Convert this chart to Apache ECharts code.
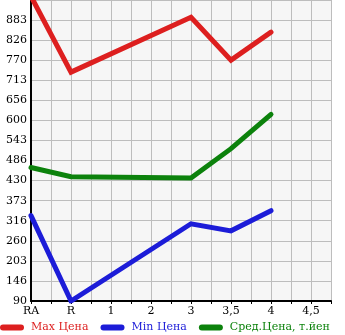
<!DOCTYPE html>
<html><head><meta charset="utf-8">
<script src="https://cdn.jsdelivr.net/npm/echarts@6/dist/echarts.min.js"></script>
<style>html,body{margin:0;padding:0;background:#fff}#c{width:345px;height:335px}</style>
</head><body><div id="c"></div>
<script>
var categories = ['RA', 'R', '1', '2', '3', '3,5', '4', '4,5'];
var maxPrice = [950, 736, null, null, 891, 770, 849, null];
var minPrice = [331, 90, null, null, 308, 288, 345, null];
var avgPrice = [467, 441, null, null, 437, 520, 617, null];
var yTickLabels = ['90', '146', '203', '260', '316', '373', '430', '486', '543', '600', '656', '713', '770', '826', '883', ''];
var seriesNames = ['Max Цена', 'Min Цена', 'Сред.Цена, т.йен'];
var colors = ['#dd1f1f', '#1c1cd8', '#0c820c'];

var yMin = 90, yStep = 793 / 14;
function pairs(arr) { return arr.map(function (v, i) { return [i, v]; }); }
var font = 'DejaVu Serif';
var chart = echarts.init(document.getElementById('c'));
var icon = 'path://M3,0 L21,0 A3,3 0 0 1 21,6 L3,6 A3,3 0 0 1 3,0 Z';
chart.setOption({
  animation: false,
  grid: { left: 31, right: 14, top: 0, bottom: 34, show: true, backgroundColor: '#f6f6f6', borderWidth: 0 },
  legend: {
    top: 322, left: 0, width: 345, padding: 0, itemWidth: 24, itemHeight: 6, itemGap: 12,
    data: seriesNames.map(function (n, i) { return { name: n, icon: icon, textStyle: { color: colors[i] } }; }),
    textStyle: { fontFamily: font, fontSize: 11, padding: [0, 0, 0, 2] }
  },
  xAxis: {
    type: 'value', min: 0, max: 7.5, interval: 0.5,
    axisLine: { lineStyle: { color: '#000', width: 2 } },
    axisTick: { show: true, length: 3, lineStyle: { color: '#000' } },
    splitLine: { show: true, lineStyle: { color: '#bdbdbd', width: 1 } },
    axisLabel: {
      color: '#000', fontFamily: font, fontSize: 11, margin: 5,
      formatter: function (v) { return Math.abs(v - Math.round(v)) < 1e-6 ? (categories[Math.round(v)] || '') : ''; }
    }
  },
  yAxis: {
    type: 'value', min: yMin, max: yMin + 15 * yStep, interval: yStep,
    axisLine: { show: true, lineStyle: { color: '#000', width: 2 } },
    axisTick: { show: false },
    splitLine: { show: true, lineStyle: { color: '#bdbdbd', width: 1 } },
    axisLabel: {
      color: '#000', fontFamily: font, fontSize: 11, margin: 4, padding: [0, 0, 6, 0],
      formatter: function (v) { return yTickLabels[Math.round((v - yMin) / yStep)] || ''; }
    }
  },
  series: [maxPrice, minPrice, avgPrice].map(function (d, i) {
    return {
      name: seriesNames[i], type: 'line', data: pairs(d), connectNulls: true,
      showSymbol: false, symbol: 'none', clip: true,
      lineStyle: { color: colors[i], width: 5, cap: 'round', join: 'miter' },
      itemStyle: { color: colors[i] }
    };
  })
});
</script></body></html>
